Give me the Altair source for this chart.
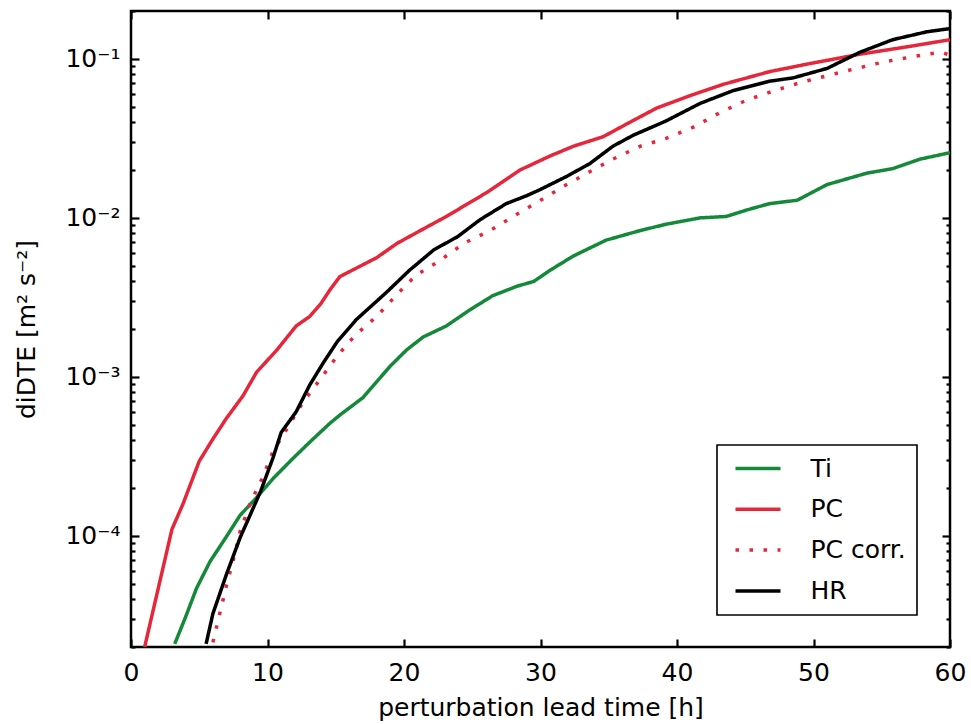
import math
import altair as alt
import pandas as pd

# ---------------- data ----------------
series_names = ["Ti", "PC", "PC corr.", "HR"]
series_colors = ["#14893a", "#e5263b", "#e5263b", "#000000"]
series_dashes = [[1, 0], [1, 0], [3.5, 10.5], [1, 0]]

ti_t = [3.2, 4.0, 4.8, 5.8, 6.8, 8.0, 9.2, 10.4, 11.9, 13.1, 14.6, 15.3, 17.0, 18.0,
        19.0, 20.2, 21.4, 23.1, 24.8, 26.5, 28.3, 29.5, 30.7, 32.4, 34.8, 37.3, 39.2,
        41.7, 43.6, 45.1, 46.8, 48.8, 51.0, 53.9, 55.8, 57.8, 60.0]
ti_v = [2.09e-5, 3.09e-5, 4.68e-5, 6.92e-5, 9.33e-5, 1.35e-4, 1.74e-4, 2.29e-4, 3.09e-4,
        3.89e-4, 5.13e-4, 5.75e-4, 7.41e-4, 9.33e-4, 1.17e-3, 1.48e-3, 1.78e-3, 2.09e-3,
        2.63e-3, 3.24e-3, 3.72e-3, 3.98e-3, 4.68e-3, 5.75e-3, 7.24e-3, 8.32e-3, 9.12e-3,
        1.00e-2, 1.02e-2, 1.12e-2, 1.23e-2, 1.29e-2, 1.62e-2, 1.91e-2, 2.04e-2, 2.34e-2,
        2.57e-2]

pc_t = [1.0, 3.0, 3.8, 5.0, 6.0, 7.0, 8.2, 9.2, 10.7, 12.1, 13.1, 13.9, 14.6, 15.3, 18.0,
        19.5, 21.2, 23.1, 26.1, 28.5, 30.7, 32.4, 34.6, 36.3, 38.5, 41.0, 43.4, 46.8,
        49.7, 53.4, 57.1, 60.0]
pc_v = [2.0e-5, 1.10e-4, 1.58e-4, 2.95e-4, 4.07e-4, 5.50e-4, 7.59e-4, 1.07e-3, 1.48e-3,
        2.09e-3, 2.40e-3, 2.88e-3, 3.55e-3, 4.27e-3, 5.62e-3, 6.92e-3, 8.32e-3, 1.02e-2,
        1.45e-2, 2.00e-2, 2.45e-2, 2.82e-2, 3.24e-2, 3.89e-2, 4.90e-2, 5.89e-2, 6.92e-2,
        8.32e-2, 9.33e-2, 0.107, 0.120, 0.132]

pcc_t = [6.0, 6.5, 7.0, 7.5, 8.0, 8.7, 9.6, 10.4, 11.4, 12.6, 13.9, 15.1, 16.4, 18.0, 19.5,
         20.9, 22.6, 24.4, 26.3, 28.0, 30.0, 31.7, 33.6, 35.3, 37.3, 39.2, 41.2, 43.1,
         45.1, 46.8, 49.0, 52.2, 55.1, 58.3, 59.4, 60.0]
pcc_v = [2.14e-5, 3.24e-5, 4.90e-5, 7.08e-5, 1.07e-4, 1.58e-4, 2.29e-4, 3.39e-4, 4.68e-4,
         6.92e-4, 9.77e-4, 1.35e-3, 1.82e-3, 2.40e-3, 3.31e-3, 4.37e-3, 5.37e-3, 6.92e-3,
         8.32e-3, 1.02e-2, 1.29e-2, 1.58e-2, 1.95e-2, 2.34e-2, 2.82e-2, 3.16e-2, 3.72e-2,
         4.57e-2, 5.50e-2, 6.17e-2, 7.08e-2, 8.32e-2, 9.55e-2, 0.107, 0.110, 0.105]

hr_t = [5.5, 6.0, 7.0, 8.0, 9.5, 10.4, 11.0, 12.1, 13.1, 14.1, 15.1, 16.5, 18.7, 20.4,
        22.2, 23.9, 25.6, 27.5, 29.0, 30.0, 31.9, 33.6, 35.3, 36.8, 39.2, 41.7, 44.1,
        46.8, 48.5, 51.0, 53.4, 55.8, 58.3, 60.0]
hr_v = [2.09e-5, 3.24e-5, 5.75e-5, 9.77e-5, 1.91e-4, 3.09e-4, 4.47e-4, 6.03e-4, 8.91e-4,
        1.23e-3, 1.66e-3, 2.29e-3, 3.39e-3, 4.68e-3, 6.31e-3, 7.59e-3, 9.77e-3, 1.23e-2,
        1.38e-2, 1.51e-2, 1.82e-2, 2.19e-2, 2.82e-2, 3.31e-2, 4.07e-2, 5.25e-2, 6.31e-2,
        7.24e-2, 7.59e-2, 8.71e-2, 0.110, 0.132, 0.148, 0.155]

x_ticks = [0, 10, 20, 30, 40, 50, 60]
y_major = [1e-4, 1e-3, 1e-2, 1e-1]
y_major_labels = ["10\u207b\u2074", "10\u207b\u00b3", "10\u207b\u00b2", "10\u207b\u00b9"]
y_minor = [2e-5, 3e-5, 4e-5, 5e-5, 6e-5, 7e-5, 8e-5, 9e-5,
           2e-4, 3e-4, 4e-4, 5e-4, 6e-4, 7e-4, 8e-4, 9e-4,
           2e-3, 3e-3, 4e-3, 5e-3, 6e-3, 7e-3, 8e-3, 9e-3,
           2e-2, 3e-2, 4e-2, 5e-2, 6e-2, 7e-2, 8e-2, 9e-2, 2e-1]

rows = []
for name, ts, vs in [("Ti", ti_t, ti_v), ("PC", pc_t, pc_v),
                     ("PC corr.", pcc_t, pcc_v), ("HR", hr_t, hr_v)]:
    for t, v in zip(ts, vs):
        rows.append({"series": name, "t": t, "v": v})
df = pd.DataFrame(rows)

# ---------------- layout ----------------
W, H = 819, 636
FONT = "DejaVu Sans"
FS = 25

label_expr = " : ".join(
    f"abs(log(datum.value)/LN10 - ({math.log10(v):.4f})) < 0.01 ? '{l}'"
    for v, l in zip(y_major, y_major_labels)) + " : ''"

x_scale = alt.Scale(domain=[0, 60], nice=False, zero=False)
y_scale = alt.Scale(type="log", domain=[2e-5, 0.2], nice=False)

# horizontal line symbol, 45 px long (custom path scaled by sqrt(size)/2)
leg = alt.Legend(title=None, orient="none", legendX=586, legendY=434,
                 symbolType="M-4.737,0H4.737", symbolSize=90.25, symbolStrokeWidth=3.5,
                 symbolOffset=17.5,
                 labelFontSize=25, labelFont=FONT, labelColor="black",
                 padding=11, rowPadding=14.8, labelOffset=40,
                 strokeColor="black", fillColor="white")

base = alt.Chart(df)

lines = base.mark_line(strokeWidth=3.5, clip=True, strokeCap="butt",
                       strokeJoin="round").encode(
    x=alt.X("t:Q", scale=x_scale,
            axis=alt.Axis(values=x_ticks, ticks=False, tickSize=0, domain=False, grid=False,
                          labelPadding=13, labelFlush=False,
                          title="perturbation lead time [h]", titlePadding=10)),
    y=alt.Y("v:Q", scale=y_scale,
            axis=alt.Axis(values=y_major, labelExpr=label_expr, ticks=False, tickSize=0,
                          domain=False, grid=False, labelPadding=11,
                          title="diDTE [m\u00b2 s\u207b\u00b2]", titlePadding=25)),
    color=alt.Color("series:N", scale=alt.Scale(domain=series_names, range=series_colors),
                    legend=leg),
    strokeDash=alt.StrokeDash("series:N",
                              scale=alt.Scale(domain=series_names, range=series_dashes),
                              legend=leg),
)


def tick_axis(orient, offset, values, size):
    return alt.Axis(orient=orient, offset=offset, values=values, tickSize=size,
                    tickWidth=2.2, tickColor="black", labels=False, domain=False,
                    grid=False, title=None)


def tick_layer(x_axis, y_axis):
    return base.mark_line(opacity=0).encode(
        x=alt.X("t:Q", scale=x_scale, axis=x_axis),
        y=alt.Y("v:Q", scale=y_scale, axis=y_axis),
        detail="series:N",
    )


layer_b = tick_layer(tick_axis("top", -H, x_ticks, 8), tick_axis("right", -W, y_major, 8))
layer_c = tick_layer(tick_axis("bottom", -H, x_ticks, 8), tick_axis("left", -W, y_major, 8))
layer_d = tick_layer(None, tick_axis("right", -W, y_minor, 4))
layer_e = tick_layer(None, tick_axis("left", -W, y_minor, 4))

chart = alt.layer(lines, layer_b, layer_c, layer_d, layer_e).resolve_axis(
    x="independent", y="independent"
).properties(
    width=W, height=H,
    padding={"left": 131, "top": 11, "right": 21, "bottom": 77},
    autosize=alt.AutoSizeParams(type="none"),
).configure_view(
    stroke="black", strokeWidth=2.5
).configure_axis(
    labelFont=FONT, labelFontSize=FS, labelColor="black",
    titleFont=FONT, titleFontSize=FS, titleFontWeight="normal", titleColor="black",
).configure_legend(
    strokeWidth=1.6
)

chart.save("out.html", embed_options={"renderer": "svg", "actions": False})
